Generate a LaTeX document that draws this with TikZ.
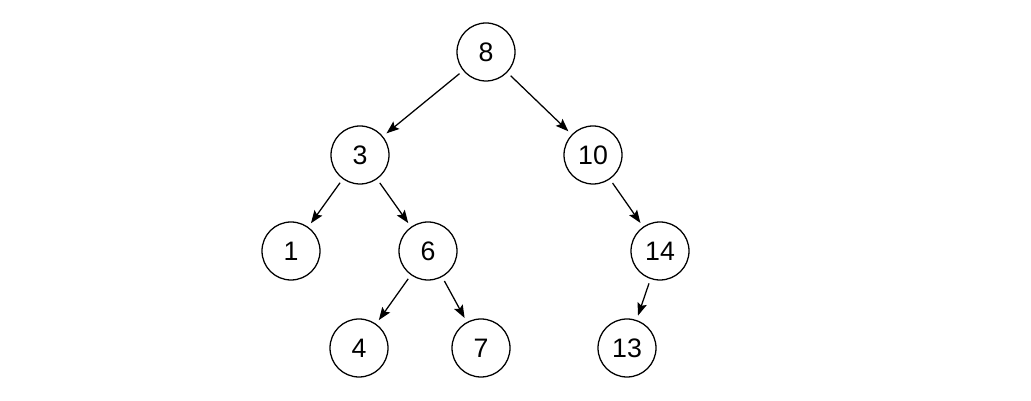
\documentclass[tikz,border=0pt]{standalone}
\usepackage{fontspec}
\setmainfont{Liberation Sans}
\usepackage{tikz}
\usetikzlibrary{arrows.meta,positioning}

\begin{document}
\begin{tikzpicture}[>={Stealth[length=0.32cm,width=0.24cm,inset=0.06cm]},
  key/.style={circle, draw=black, line width=0.9pt, fill=white, minimum size=1.45cm, inner sep=0pt, outer sep=0.13cm, font=\fontsize{19}{22}\selectfont},
  link/.style={->, line width=0.9pt, black}]
\useasboundingbox (0,0) rectangle (25.775,10.025);

\node[key] (k8) at (12.15,8.725) {8};
\node[key] (k3) at (9.0,6.15) {3};
\node[key] (k10) at (14.825,6.15) {10};
\node[key] (k1) at (7.275,3.75) {1};
\node[key] (k6) at (10.7,3.75) {6};
\node[key] (k14) at (16.5,3.75) {14};
\node[key] (k4) at (8.975,1.325) {4};
\node[key] (k7) at (12.025,1.325) {7};
\node[key] (k13) at (15.675,1.325) {13};

\foreach \a/\b in {k8/k3,k8/k10,k3/k1,k3/k6,k10/k14,k6/k4,k6/k7,k14/k13}{\draw[link] (\a) -- (\b);}

\end{tikzpicture}
\end{document}
